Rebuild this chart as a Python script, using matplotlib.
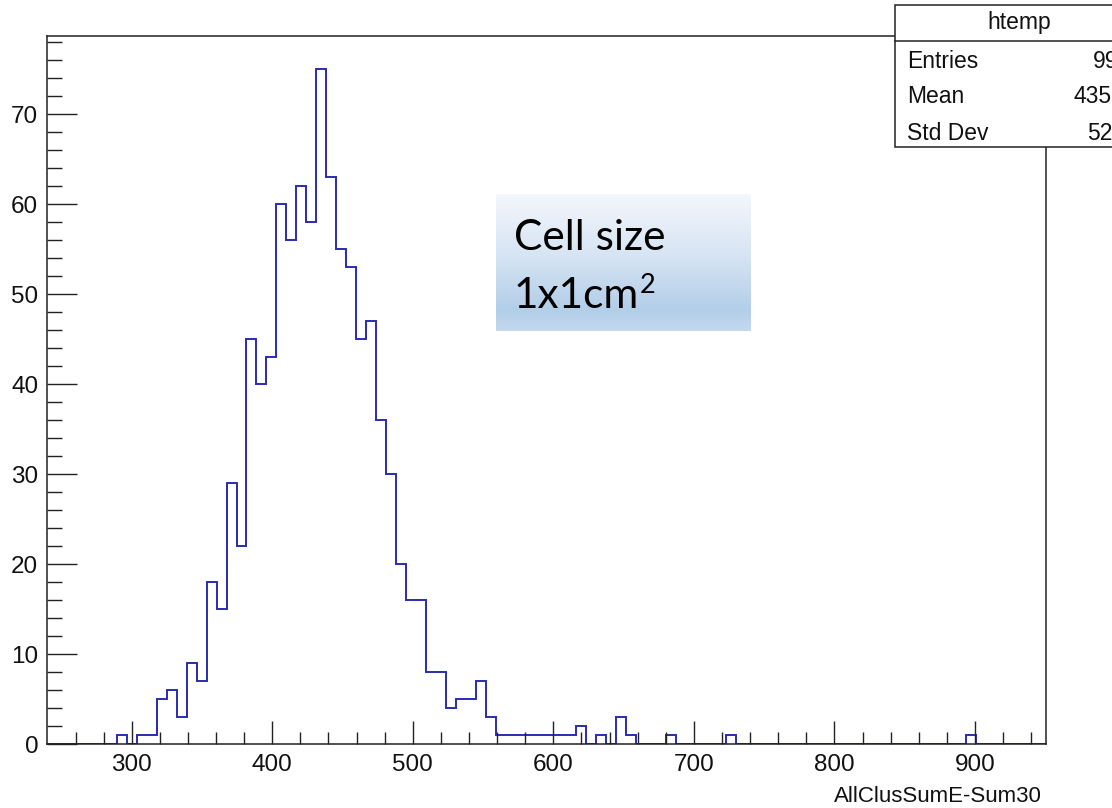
import numpy as np
import matplotlib
matplotlib.use("Agg")
import matplotlib.pyplot as plt
from matplotlib.patches import Rectangle
from matplotlib.lines import Line2D
from matplotlib.colors import LinearSegmentedColormap

# histogram data (ROOT htemp, 100 bins)
x_min = 239.5
x_max = 950.3
n_bins = 100
counts = [
    0, 0, 0, 0, 0, 0, 0, 1, 0, 1,
    1, 5, 6, 3, 9, 7, 18, 15, 29, 22,
    45, 40, 43, 60, 56, 62, 58, 75, 63, 55,
    53, 45, 47, 36, 30, 20, 16, 16, 8, 8,
    4, 5, 5, 7, 3, 1, 1, 1, 1, 1,
    1, 1, 1, 2, 0, 1, 0, 3, 1, 0,
    0, 0, 1, 0, 0, 0, 0, 0, 1, 0,
    0, 0, 0, 0, 0, 0, 0, 0, 0, 0,
    0, 0, 0, 0, 0, 0, 0, 0, 0, 0,
    0, 0, 1, 0, 0, 0, 0, 0, 0, 0,
]
y_max = 78.75

x_ticks = [300, 400, 500, 600, 700, 800, 900]
y_ticks = [0, 10, 20, 30, 40, 50, 60, 70]

stats_title = "htemp"
stats_names = ["Entries", "Mean", "Std Dev"]
stats_values = ["995", "435.5", "52.4"]

x_title = "AllClusSumE-Sum30"
note_lines = ["Cell size", "1x1cm"]
note_sup = "2"

W, H = 1112, 808
line_col = "#2b2bb0"
frame_col = "#222222"
root_font = ["Liberation Sans", "DejaVu Sans"]
note_font = ["Lato", "DejaVu Sans"]


def fx(px):
    return px / W


def fy(py):
    return 1 - py / H


fig = plt.figure(figsize=(W / 100, H / 100), dpi=100)
ax = fig.add_axes([fx(46.7), fy(744.3), fx(1045.7) - fx(46.7), fy(35.7) - fy(744.3)])

edges = np.linspace(x_min, x_max, n_bins + 1)
ax.stairs(counts, edges, color=line_col, linewidth=1.4, baseline=0)

ax.set_xlim(x_min, x_max)
ax.set_ylim(0, y_max)
ax.set_xticks(x_ticks)
ax.set_xticks(np.arange(260, 950, 20), minor=True)
ax.set_yticks(y_ticks)
ax.set_yticks(np.arange(0, 79, 2), minor=True)

ax.tick_params(which="both", direction="in", color=frame_col, width=1.0,
               top=False, right=False)
ax.tick_params(axis="x", which="major", length=16.3, pad=7)
ax.tick_params(axis="x", which="minor", length=8.4)
ax.tick_params(axis="y", which="major", length=21.6, pad=6)
ax.tick_params(axis="y", which="minor", length=10.8)

for lab in ax.get_xticklabels() + ax.get_yticklabels():
    lab.set_fontfamily(root_font)
    lab.set_fontsize(17.5)
    lab.set_color("#111111")

for s in ax.spines.values():
    s.set_color(frame_col)
    s.set_linewidth(1.1)

fig.text(fx(1041.7), fy(801.7), x_title, ha="right", va="baseline",
         fontsize=16, family=root_font, color="#111111")

# stats box (runs off the right edge of the picture, as in the screenshot)
box = Rectangle((fx(895), fy(146.7)), fx(1200) - fx(895), fy(5) - fy(146.7),
                transform=fig.transFigure, facecolor="white",
                edgecolor=frame_col, linewidth=1.1, zorder=5)
fig.add_artist(box)
fig.add_artist(Line2D([fx(895), fx(1200)], [fy(40.7), fy(40.7)],
                      transform=fig.transFigure, color=frame_col,
                      linewidth=1.1, zorder=6))
fig.text(fx(1019.5), fy(22), stats_title, ha="center", va="center",
         fontsize=16.5, family=root_font, color="#111111", zorder=7)
baselines = [68.3, 103.3, 140.0]
for name, val, yb in zip(stats_names, stats_values, baselines):
    fig.text(fx(907), fy(yb), name, ha="left", va="baseline",
             fontsize=16.5, family=root_font, color="#111111", zorder=7)
    fig.text(fx(1131), fy(yb), val, ha="right", va="baseline",
             fontsize=16.5, family=root_font, color="#111111", zorder=7)

# gradient note box
note_ax = fig.add_axes([fx(496), fy(330.7), fx(750.7) - fx(496), fy(194) - fy(330.7)])
grad_cmap = LinearSegmentedColormap.from_list(
    "note", [(0.0, "#f4f7fc"), (0.45, "#d6e4f3"), (0.85, "#b2cee8"), (1.0, "#c4d9ee")])
note_ax.imshow(np.linspace(0, 1, 256).reshape(-1, 1), aspect="auto",
               cmap=grad_cmap, extent=[0, 1, 1, 0])
note_ax.set_xlim(0, 1)
note_ax.set_ylim(1, 0)
note_ax.axis("off")

fig.text(fx(514), fy(250), note_lines[0], ha="left", va="baseline",
         fontsize=30.5, family=note_font, color="black")
t2 = fig.text(fx(514), fy(307.7), note_lines[1], ha="left", va="baseline",
              fontsize=30.5, family=note_font, color="black")
note_ax.annotate(note_sup, xy=(1, 0), xycoords=t2, xytext=(0.5, 15.5),
                 textcoords="offset points", ha="left", va="baseline",
                 fontsize=19.5, family=note_font, color="black",
                 annotation_clip=False, zorder=10)

fig.savefig("out.png", dpi=100)
